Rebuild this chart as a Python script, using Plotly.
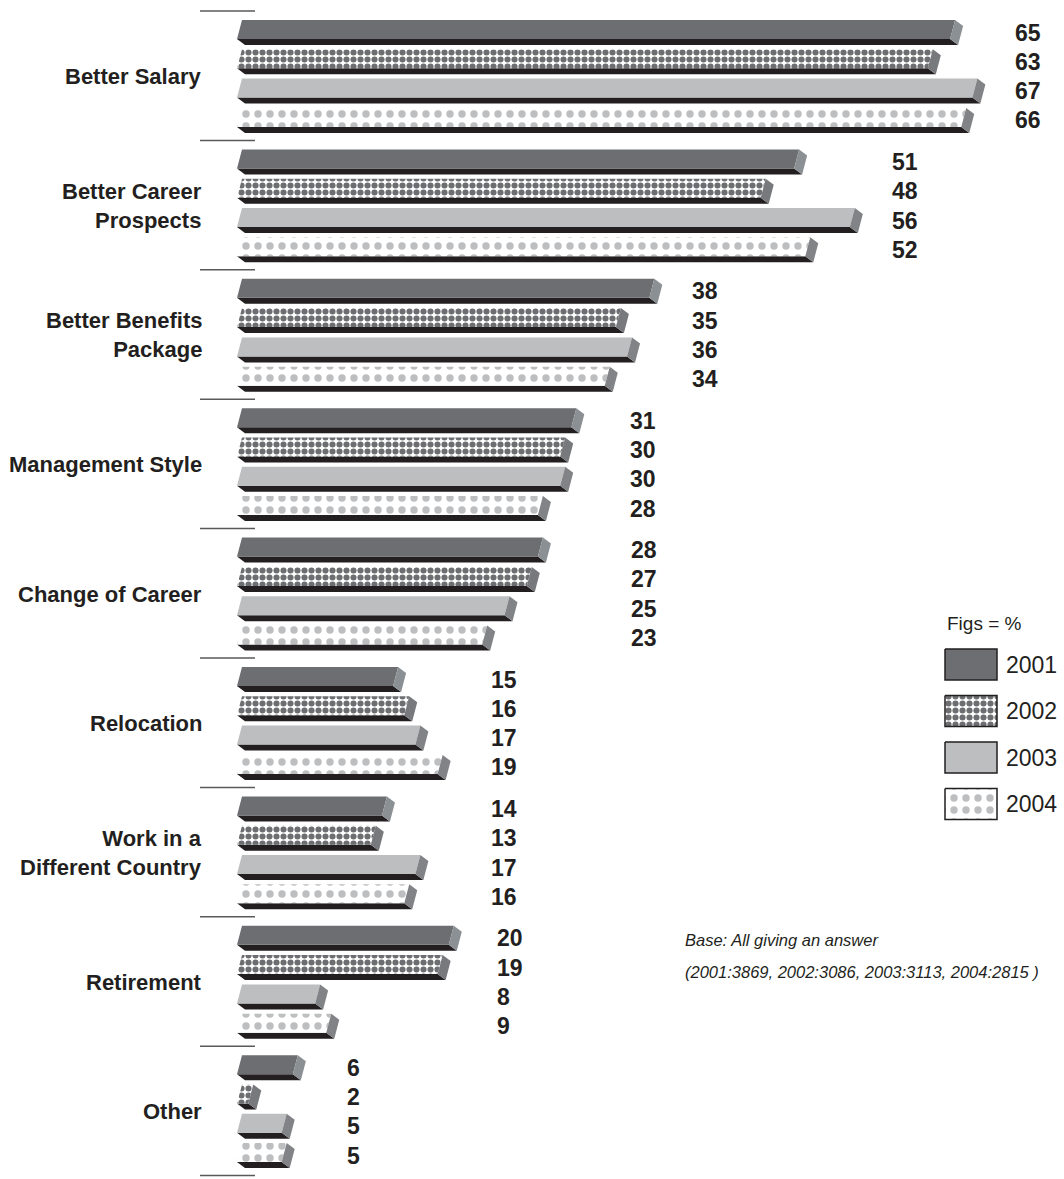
import plotly.graph_objects as go

# ---------------- data ----------------
categories = ["Better Salary", "Better Career Prospects", "Better Benefits Package",
              "Management Style", "Change of Career", "Relocation",
              "Work in a Different Country", "Retirement", "Other"]
category_display = ["Better Salary", "Better Career<br>Prospects", "Better Benefits<br>Package",
                    "Management Style", "Change of Career", "Relocation",
                    "Work in a<br>Different Country", "Retirement", "Other"]
years = ["2001", "2002", "2003", "2004"]
v2001 = [65, 51, 38, 31, 28, 15, 14, 20, 6]
v2002 = [63, 48, 35, 30, 27, 16, 13, 19, 2]
v2003 = [67, 56, 36, 30, 25, 17, 17, 8, 5]
v2004 = [66, 52, 34, 28, 23, 19, 16, 9, 5]
series = [v2001, v2002, v2003, v2004]
base_line1 = "Base: All giving an answer"
base_line2 = "(2001:3869, 2002:3086, 2003:3113, 2004:2815 )"

# ---------------- layout constants (pixels) ----------------
W, H = 1064, 1179
PPU = 11.14          # pixels per percentage point
ZERO_PX = 226        # pixel of value 0
BAR_START_PX = 237
GROUP_TOP0 = 20
GROUP_PITCH = 129.4
BAR_PITCH = 29.3
FACE_H = 19
STRIP_H = 6
SLANT = 5            # top edge shift of the face
DEPTH_X, DEPTH_Y = 8, 6
LABEL_X_PX = [1013, 890, 690, 628, 629, 489, 489, 495, 345]
LEG_X0, LEG_X1 = 945, 997
LEG_TOP0, LEG_PITCH, LEG_H = 649, 46.5, 31

TXT = "#231f20"
FONT = "Liberation Sans, Arial, sans-serif"


def dx(p):
    """pixel distance -> data distance along x"""
    return p / PPU


def px2x(p):
    return (p - ZERO_PX) / PPU


face_styles = [
    dict(fillcolor="#6d6e71"),
    dict(fillcolor="#ffffff",
         fillpattern=dict(shape=".", size=7, solidity=0.6, fgcolor="#6d6e71",
                          bgcolor="#ffffff", fillmode="replace")),
    dict(fillcolor="#bcbec0"),
    dict(fillcolor="#ffffff",
         fillpattern=dict(shape=".", size=12, solidity=0.3, fgcolor="#bcbec0",
                          bgcolor="#ffffff", fillmode="replace")),
]
cap_colors = ["#8b9095", "#77797c", "#818386", "#818386"]

fig = go.Figure()
x_left = px2x(BAR_START_PX)

for s, vals in enumerate(series):
    fx, fy, sx, sy, cx, cy = [], [], [], [], [], []
    for g, v in enumerate(vals):
        t = GROUP_TOP0 + g * GROUP_PITCH + s * BAR_PITCH
        fb = t + FACE_H
        # face (parallelogram)
        fx += [x_left, v, v + dx(SLANT), x_left + dx(SLANT), x_left, None]
        fy += [fb, fb, t, t, fb, None]
        # front dark strip
        sx += [x_left, v, v + dx(DEPTH_X), x_left + dx(DEPTH_X), x_left, None]
        sy += [fb, fb, fb + STRIP_H, fb + STRIP_H, fb, None]
        # end cap
        cx += [v, v + dx(SLANT), v + dx(SLANT + DEPTH_X), v + dx(DEPTH_X), v, None]
        cy += [fb, t, t + DEPTH_Y, fb + STRIP_H, fb, None]
    fig.add_trace(go.Scatter(x=sx, y=sy, mode="lines", fill="toself", fillcolor="#231f20",
                             line=dict(width=0, color="#231f20"), hoverinfo="skip", showlegend=False))
    fig.add_trace(go.Scatter(x=fx, y=fy, mode="lines", fill="toself",
                             line=dict(width=0, color="rgba(0,0,0,0)"), hoverinfo="skip",
                             showlegend=False, **face_styles[s]))
    fig.add_trace(go.Scatter(x=cx, y=cy, mode="lines", fill="toself", fillcolor=cap_colors[s],
                             line=dict(width=0, color=cap_colors[s]), hoverinfo="skip", showlegend=False))

# value labels
for g in range(len(categories)):
    for s, vals in enumerate(series):
        t = GROUP_TOP0 + g * GROUP_PITCH + s * BAR_PITCH
        fig.add_annotation(x=LABEL_X_PX[g] / W, xref="paper", y=t + 12.5, yref="y",
                           text=str(vals[g]), showarrow=False, xanchor="left", yanchor="middle",
                           font=dict(family=FONT, size=23, color=TXT, weight="bold"))

# category labels
for g, lab in enumerate(category_display):
    yc = GROUP_TOP0 + g * GROUP_PITCH + (3 * BAR_PITCH + FACE_H + STRIP_H) / 2
    fig.add_annotation(x=204 / W, xref="paper", y=yc, yref="y", text=lab, showarrow=False,
                       xanchor="right", yanchor="middle", align="right",
                       font=dict(family=FONT, size=22, color=TXT, weight="bold"))

# group separator lines
shapes = []
for g in range(len(categories) + 1):
    ys = GROUP_TOP0 + g * GROUP_PITCH - 9
    shapes.append(dict(type="line", xref="paper", yref="y", x0=200 / W, x1=255 / W, y0=ys, y1=ys,
                       line=dict(color="#58595b", width=1.5)))

# legend
fig.add_annotation(x=945 / W, xref="paper", y=623, yref="y", text="Figs = %", showarrow=False,
                   xanchor="left", yanchor="middle", font=dict(family=FONT, size=19, color=TXT))
for s, yr in enumerate(years):
    top = LEG_TOP0 + s * LEG_PITCH
    bx = [px2x(LEG_X0), px2x(LEG_X1), px2x(LEG_X1), px2x(LEG_X0), px2x(LEG_X0)]
    by = [top, top, top + LEG_H, top + LEG_H, top]
    fig.add_trace(go.Scatter(x=bx, y=by, mode="lines", fill="toself",
                             line=dict(width=1.5, color="#231f20"), hoverinfo="skip",
                             showlegend=False, **face_styles[s]))
    fig.add_annotation(x=1004 / W, xref="paper", y=top + LEG_H / 2, yref="y", text=yr,
                       showarrow=False, xanchor="left", yanchor="middle",
                       font=dict(family=FONT, size=23, color=TXT))

# base note
fig.add_annotation(x=683 / W, xref="paper", y=940, yref="y", text="<i>" + base_line1 + "</i>",
                   showarrow=False, xanchor="left", yanchor="middle",
                   font=dict(family=FONT, size=16.5, color=TXT))
fig.add_annotation(x=683 / W, xref="paper", y=972, yref="y", text="<i>" + base_line2 + "</i>",
                   showarrow=False, xanchor="left", yanchor="middle",
                   font=dict(family=FONT, size=16.5, color=TXT))

fig.update_layout(
    width=W, height=H, autosize=False,
    margin=dict(l=0, r=0, t=0, b=0),
    paper_bgcolor="white", plot_bgcolor="white",
    xaxis=dict(range=[px2x(0), px2x(W)], visible=False, fixedrange=True),
    yaxis=dict(range=[H, 0], visible=False, fixedrange=True),
    shapes=shapes,
    showlegend=False,
)

fig.write_html("out.html", config={"displayModeBar": False},
               post_script="document.body.style.margin='0';document.body.style.overflow='hidden';")
